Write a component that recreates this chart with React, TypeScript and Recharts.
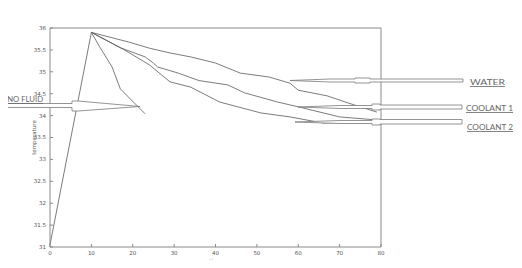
import { LineChart, Line, XAxis, YAxis } from 'recharts';

// values: [time, temperature]
const nanoFluid: [number, number][] = [
  [0, 31.05], [10, 35.9], [12, 35.57], [15, 35.11], [17, 34.61], [23, 34.04],
];
const water: [number, number][] = [
  [10, 35.9], [19, 35.68], [24, 35.54], [29, 35.43], [34, 35.34],
  [40, 35.2], [46, 34.97], [53, 34.88], [58, 34.74], [60, 34.58], [67, 34.45],
  [72, 34.29], [79, 34.08],
];
const coolant1: [number, number][] = [
  [10, 35.9], [17, 35.55], [23, 35.34], [25, 35.2], [26, 35.11],
  [31, 34.97], [36, 34.8], [43, 34.7], [47, 34.52], [55, 34.31], [60, 34.2],
  [70, 33.97], [79, 33.9],
];
const coolant2: [number, number][] = [
  [10, 35.9], [18, 35.5], [24, 35.16], [29, 34.77], [34, 34.65],
  [41, 34.31], [51, 34.06], [58, 33.97], [66, 33.83], [80, 33.85],
];

const xTicks = [0, 10, 20, 30, 40, 50, 60, 70, 80];
const yTicks = [31, 31.5, 32, 32.5, 33, 33.5, 34, 34.5, 35, 35.5, 36];

const seriesList = [
  { name: 'NANO FLUID', points: nanoFluid },
  { name: 'WATER', points: water },
  { name: 'COOLANT 1', points: coolant1 },
  { name: 'COOLANT 2', points: coolant2 },
];

const toRows = (pts: [number, number][]) => pts.map(([x, y]) => ({ x, y }));

const lineColor = '#5a5a5a';
const axisColor = '#8a8a8a';
const tickStyle = { fontSize: 5.5, fill: '#555', fontFamily: 'DejaVu Sans' };
const labelFont = 'Lato, "Open Sans", sans-serif';
const labelColor = '#666';

function Arrows() {
  const stroke = '#7a7a7a';
  return (
    <svg width={522} height={268} style={{ position: 'absolute', left: 0, top: 0, pointerEvents: 'none' }}>
      <g fill="#fff" stroke={stroke} strokeWidth={0.8}>
        {/* nano fluid */}
        <polygon points="5,103.5 72,103.5 72,101 78,101 140,106.5 78,111 72,111 72,107.5 5,107.5" />
        {/* water */}
        <polygon points="290,80.5 330,79 355,79 355,78 370,78 370,79 463,79 463,82 370,82 370,83 355,83 355,82 330,82" />
        {/* coolant 1 */}
        <polygon points="298,107 340,105.5 372,105.5 372,104 380,104 380,105 462,105 462,109 380,109 380,110 372,110 372,108.5 340,108.5" />
        {/* coolant 2 */}
        <polygon points="295,122 340,120.5 372,120.5 372,119 380,119 380,119.5 462,119.5 462,124 380,124 380,125 372,125 372,123.5 340,123.5" />
      </g>
      <g fontFamily={labelFont} fontSize={8} fill={labelColor} textDecoration="underline">
        <text x={470} y={85} textLength={35} lengthAdjust="spacingAndGlyphs">WATER</text>
        <text x={466} y={111} textLength={47} lengthAdjust="spacingAndGlyphs">COOLANT 1</text>
        <text x={467} y={130} textLength={46} lengthAdjust="spacingAndGlyphs">COOLANT 2</text>
        <text x={2} y={102} fontSize={7.5} textLength={41} lengthAdjust="spacingAndGlyphs">{'ANO FLUID'}</text>
      </g>
    </svg>
  );
}

export default function App() {
  return (
    <div style={{ position: 'relative', width: 522, height: 268, margin: -8, background: '#fff' }}>
      <LineChart width={522} height={268} margin={{ top: 8, right: 120, bottom: 1, left: 10 }}>
        <XAxis
          xAxisId="bottom"
          type="number"
          dataKey="x"
          domain={[0, 80]}
          ticks={xTicks}
          height={20}
          stroke={axisColor}
          tickSize={-3}
          tickMargin={7}
          tick={tickStyle}
          label={{ value: 'time', position: 'insideBottom', offset: 4, style: tickStyle }}
        />
        <XAxis
          xAxisId="top"
          orientation="top"
          type="number"
          dataKey="x"
          domain={[0, 80]}
          ticks={xTicks}
          height={20}
          stroke={axisColor}
          tickSize={-3}
          tickFormatter={() => ''}
        />
        <YAxis
          yAxisId="left"
          type="number"
          domain={[31, 36]}
          ticks={yTicks}
          width={40}
          stroke={axisColor}
          tickSize={-3}
          tickMargin={7}
          tick={tickStyle}
          label={{ value: 'temperature', angle: -90, position: 'insideLeft', offset: 24, style: { ...tickStyle, textAnchor: 'middle' } }}
        />
        <YAxis
          yAxisId="right"
          orientation="right"
          type="number"
          domain={[31, 36]}
          ticks={yTicks}
          width={21}
          stroke={axisColor}
          tickSize={-3}
          tickFormatter={() => ''}
        />
        {seriesList.map((s) => (
          <Line
            key={s.name}
            name={s.name}
            data={toRows(s.points)}
            dataKey="y"
            xAxisId="bottom"
            yAxisId="left"
            type="linear"
            stroke={lineColor}
            strokeWidth={0.8}
            dot={false}
            isAnimationActive={false}
          />
        ))}
      </LineChart>
      <Arrows />
    </div>
  );
}
